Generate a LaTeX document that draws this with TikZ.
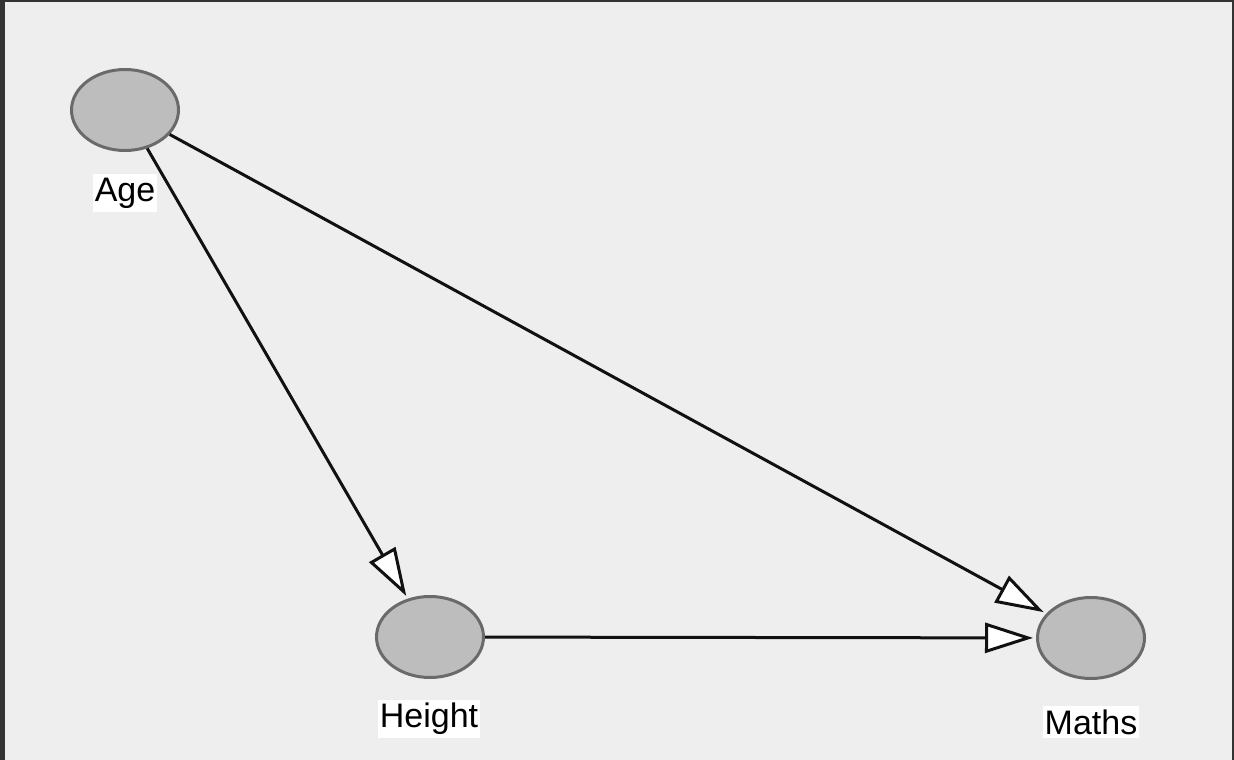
\documentclass[tikz,border=0pt]{standalone}
\usepackage{fontspec}
\setmainfont{Liberation Sans}
\usetikzlibrary{shapes.geometric,arrows.meta}
\definecolor{bg}{HTML}{EEEEEE}
\definecolor{frame}{HTML}{333333}
\definecolor{nodefill}{HTML}{BDBDBD}
\definecolor{nodeline}{HTML}{6A6A6A}
\definecolor{edgecol}{HTML}{111111}
\tikzset{
  var/.style={ellipse, draw=nodeline, fill=nodefill, line width=3pt,
    minimum width=107pt, minimum height=81pt, inner sep=0pt},
  lab/.style={fill=white, inner xsep=2pt, inner ysep=3.5pt, font=\fontsize{34}{38}\selectfont},
  edge/.style={line width=3pt, draw=edgecol, shorten >=3pt,
    -{Triangle[length=48pt, width=30pt, fill=white, line width=3pt]}}
}
\begin{document}
\begin{tikzpicture}[x=1pt, y=-1pt]
\useasboundingbox (0,0) rectangle (1234,760);
\fill[frame] (0,0) rectangle (1234,760);
\fill[bg] (5,2) rectangle (1232,760);
\node[var] (age) at (125,110) {};
\node[var] (height) at (430,637) {};
\node[var] (maths) at (1091,638) {};
\node[lab] (agel) at (125,193) {Age};
\node[lab] (heightl) at (429,719) {Height};
\node[lab] (mathsl) at (1091,722) {Maths};
\draw[edge] (age) -- (height);
\draw[edge] (age) -- (maths);
\draw[edge] (height) -- (maths);
\end{tikzpicture}
\end{document}
